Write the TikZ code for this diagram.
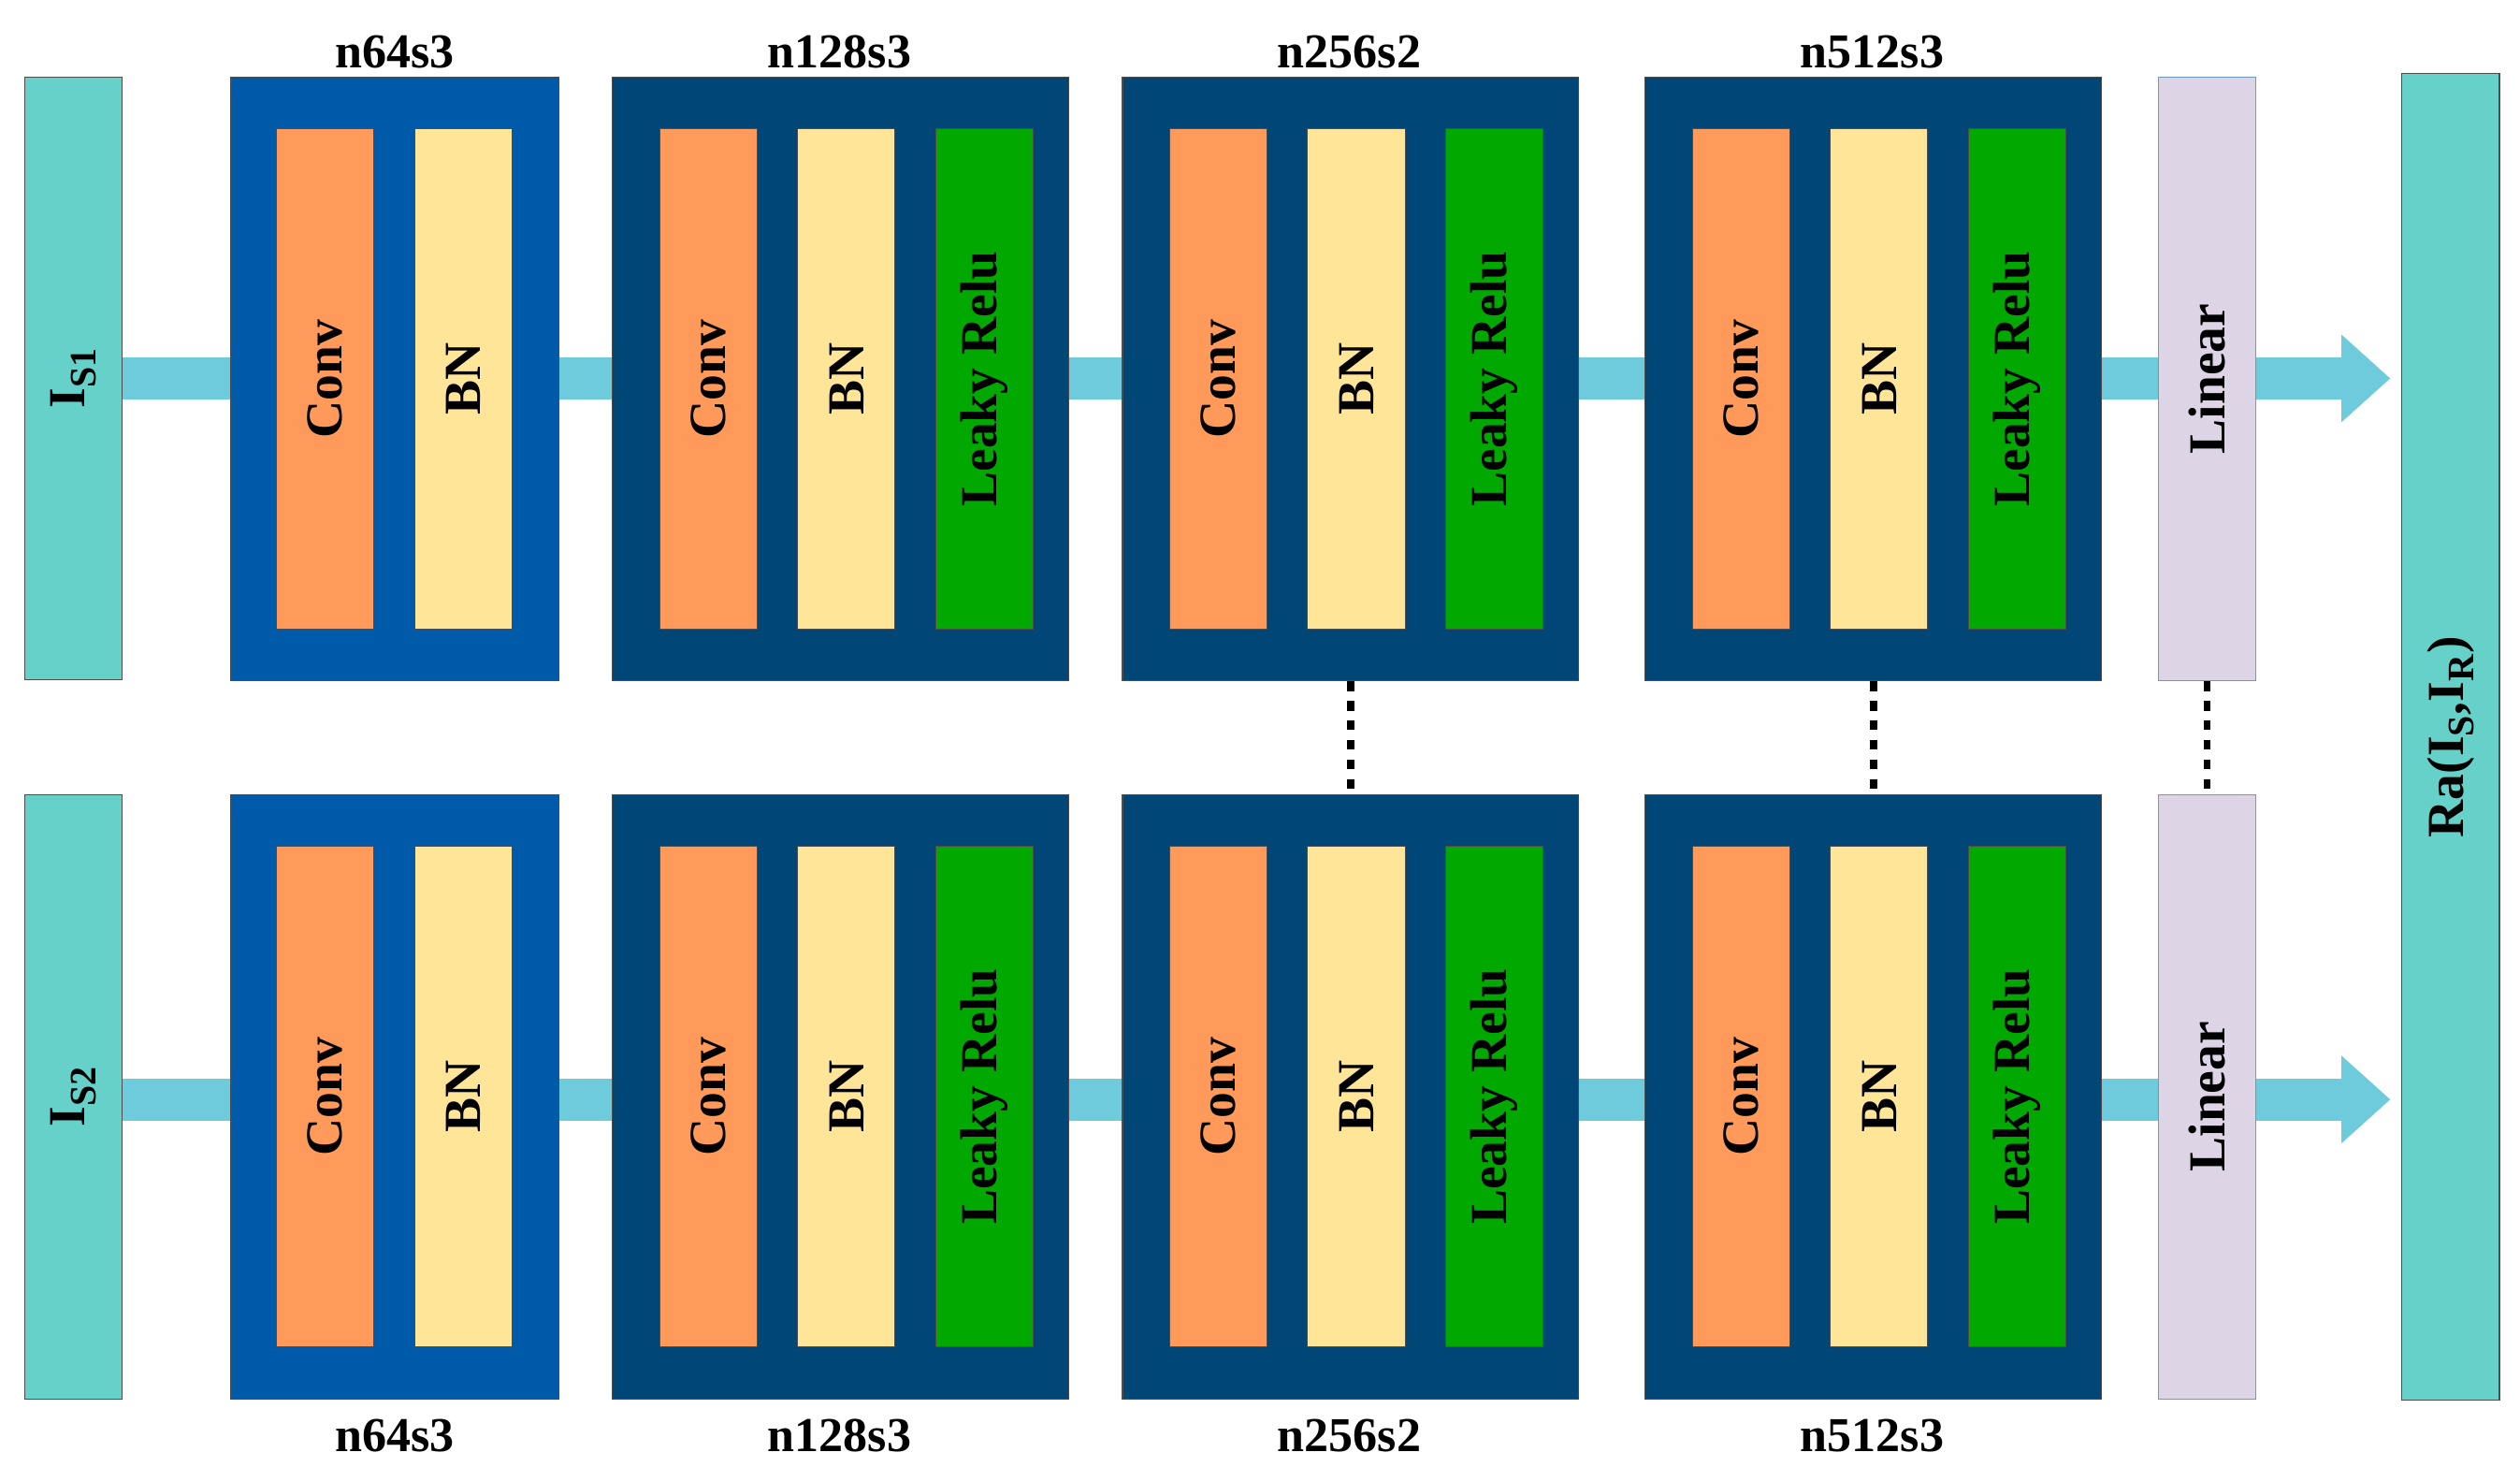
\documentclass[tikz,border=0pt]{standalone}
\usepackage{fontspec}
\setmainfont{Liberation Serif}
\usetikzlibrary{arrows.meta}
\definecolor{teal1}{HTML}{66D1C9}
\definecolor{blk1}{HTML}{005AAA}
\definecolor{blk2}{HTML}{004677}
\definecolor{convc}{HTML}{FF9A5A}
\definecolor{bnc}{HTML}{FFE598}
\definecolor{lrc}{HTML}{00A800}
\definecolor{linc}{HTML}{DDD5E6}
\definecolor{arrc}{HTML}{6DCBDC}
\tikzset{
 box/.style={draw=black!70,line width=0.6pt,minimum width=60pt,anchor=north west,inner sep=0pt},
 lbl/.style={font=\bfseries\fontsize{32}{32}\selectfont,rotate=90},
 band/.style={arrc,line width=26pt},
 dots/.style={black,line width=4.5pt,dash pattern=on 6pt off 6pt},
 head/.style={font=\bfseries\fontsize{30}{30}\selectfont}
}
\begin{document}
\begin{tikzpicture}[x=1pt,y=-1pt]
\useasboundingbox[fill=white] (0,0) rectangle (1552,903);
% arrows bands
\foreach \yy/\r in {233/a,677/b}{
 \draw[band] (75,\yy) -- (1442,\yy);
 \fill[arrc] (1442,\yy-27) -- (1472,\yy) -- (1442,\yy+27) -- cycle;
}
% inputs
\node[box,fill=teal1,minimum height=371pt] (is1) at (15,47) {};
\node[lbl] at (is1.center) {I\textsubscript{\fontsize{23}{23}\selectfont S1}};
\node[box,fill=teal1,minimum height=372pt] (is2) at (15,489) {};
\node[lbl] at (is2.center) {I\textsubscript{\fontsize{23}{23}\selectfont S2}};
\node[box,fill=teal1,minimum height=817pt] (ra) at (1479,45) {};
\node[lbl] at (ra.center) {Ra(I\textsubscript{\fontsize{23}{23}\selectfont S},I\textsubscript{\fontsize{23}{23}\selectfont R})};
% rows
\foreach \row/\yt/\yi/\ylab in {t/47/79/32,b/489/521/884}{
 \node[box,fill=blk1,minimum width=202pt,minimum height=372pt] (b1\row) at (142,\yt) {};
 \node[head] at (243,\ylab) {n64s3};
 \node[box,fill=convc,minimum height=308pt] (c1\row) at (170,\yi) {};
 \node[lbl] at (c1\row.center) {Conv};
 \node[box,fill=bnc,minimum height=308pt] (n1\row) at (255,\yi) {};
 \node[lbl] at (n1\row.center) {BN};
 \foreach \k/\x/\name in {2/377/n128s3,3/691/n256s2,4/1013/n512s3}{
  \node[box,fill=blk2,minimum width=281pt,minimum height=372pt] (b\k\row) at (\x,\yt) {};
  \node[head] at (\x+140,\ylab) {\name};
  \node[box,fill=convc,minimum height=308pt] (c\k\row) at (\x+29,\yi) {};
  \node[lbl] at (c\k\row.center) {Conv};
  \node[box,fill=bnc,minimum height=308pt] (n\k\row) at (\x+114,\yi) {};
  \node[lbl] at (n\k\row.center) {BN};
  \node[box,fill=lrc,minimum height=308pt] (l\k\row) at (\x+199,\yi) {};
  \node[lbl] at (l\k\row.center) {Leaky Relu};
 }
 \node[box,fill=linc,draw=blk1!60,minimum height=372pt] (lin\row) at (1329,\yt) {};
 \node[lbl] at (lin\row.center) {Linear};
}
\draw[dots] (b3t.south) -- (b3b.north);
\draw[dots] (b4t.south) -- (b4b.north);
\draw[dots] (lint.south) -- (linb.north);
\end{tikzpicture}
\end{document}
